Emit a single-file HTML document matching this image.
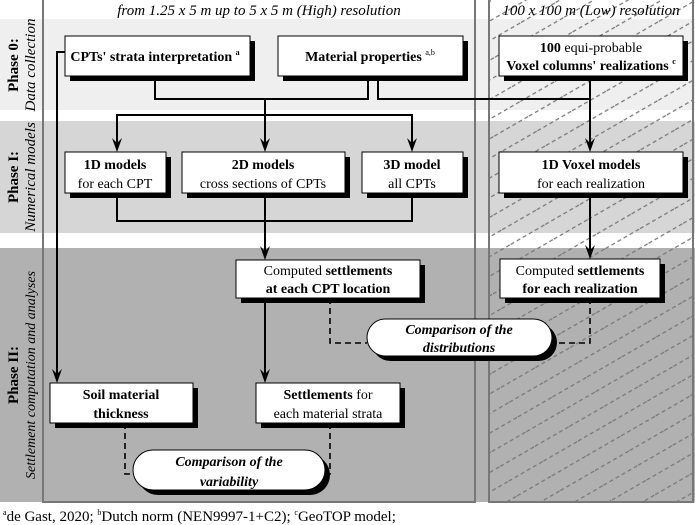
<!DOCTYPE html>
<html><head><meta charset="utf-8"><style>
html,body{margin:0;padding:0;background:#fff;}
svg{display:block;font-family:"Liberation Serif","Times New Roman",serif;}
text{font-family:"Liberation Serif","Times New Roman",serif;}
.b{font-weight:bold;}
</style></head><body>
<svg width="695" height="525" viewBox="0 0 695 525" xmlns="http://www.w3.org/2000/svg">
<defs>
<pattern id="h" width="40" height="17" patternUnits="userSpaceOnUse" patternTransform="rotate(-30)">
<line x1="0" y1="8" x2="40" y2="8" stroke="#777" stroke-width="1.2" stroke-dasharray="4 3"/>
</pattern>
</defs>
<!-- bands -->
<rect x="0" y="19" width="695" height="91" fill="#efefef"/>
<rect x="0" y="121" width="695" height="112" fill="#d6d6d6"/>
<rect x="0" y="248" width="695" height="254" fill="#b1b1b1"/>
<rect x="489" y="0" width="204" height="502" fill="url(#h)"/>
<rect x="43" y="-2" width="432" height="504" fill="none" stroke="#777" stroke-width="2"/>
<rect x="489" y="-2" width="204" height="504" fill="none" stroke="#777" stroke-width="2"/>
<!-- headers -->
<text x="259" y="15" font-size="15" font-style="italic" text-anchor="middle">from 1.25 x 5 m up to 5 x 5 m (High) resolution</text>
<text x="591" y="15" font-size="15" font-style="italic" text-anchor="middle">100 x 100 m (Low) resolution</text>
<!-- phase labels -->
<g font-size="15" text-anchor="middle">
<text transform="translate(18,65) rotate(-90)" class="b">Phase 0:</text>
<text transform="translate(35,65) rotate(-90)" font-style="italic">Data collection</text>
<text transform="translate(18,177) rotate(-90)" class="b">Phase I:</text>
<text transform="translate(35,177) rotate(-90)" font-style="italic">Numerical models</text>
<text transform="translate(18,375) rotate(-90)" class="b">Phase II:</text>
<text transform="translate(35,375) rotate(-90)" font-style="italic" font-size="14">Settlement computation and analyses</text>
</g>
<!-- connectors -->
<g stroke="#000" stroke-width="2" fill="none">
<polyline points="155,76 155,99 368,99 368,76"/>
<polyline points="378,76 378,99 590,99"/>
<line x1="265" y1="99" x2="265" y2="145"/>
<line x1="590" y1="76" x2="590" y2="145"/>
<polyline points="117,145 117,115 412,115 412,145"/>
<polyline points="117,193 117,221 412,221 412,193"/>
<line x1="265" y1="193" x2="265" y2="253"/>
<line x1="590" y1="193" x2="590" y2="252"/>
<polyline points="65,52 57,52 57,376"/>
<line x1="265" y1="298" x2="265" y2="376"/>
</g>
<g fill="#000">
<path d="M112,138 L117,152 L122,138 L117,143 Z"/>
<path d="M260,138 L265,152 L270,138 L265,143 Z"/>
<path d="M407,138 L412,152 L417,138 L412,143 Z"/>
<path d="M585,138 L590,152 L595,138 L590,143 Z"/>
<path d="M260,246 L265,260 L270,246 L265,251 Z"/>
<path d="M585,245 L590,259 L595,245 L590,250 Z"/>
<path d="M52,369 L57,383 L62,369 L57,374 Z"/>
<path d="M260,369 L265,383 L270,369 L265,374 Z"/>
</g>
<g stroke="#000" stroke-width="1.6" fill="none" stroke-dasharray="6 4">
<polyline points="330,298 330,343 367,343"/>
<polyline points="590,298 590,343 552,343"/>
<polyline points="125,423 125,474 140,474"/>
<polyline points="330,423 330,474 320,474"/>
</g>
<!-- boxes -->
<g fill="#000">
<rect x="70" y="41" width="185" height="40"/><rect x="283" y="41" width="185" height="40"/><rect x="504" y="41" width="184" height="40"/>
<rect x="70" y="157" width="101" height="41"/><rect x="187" y="157" width="163" height="41"/><rect x="367" y="157" width="101" height="41"/><rect x="504" y="157" width="184" height="41"/>
<rect x="241" y="265" width="184" height="38"/><rect x="505" y="264" width="160" height="39"/>
<rect x="55" y="388" width="143" height="40"/><rect x="261" y="388" width="144" height="40"/>
<rect x="372" y="324" width="185" height="37" rx="18.5"/><rect x="138" y="455" width="192" height="40" rx="20"/>
</g>
<g fill="#fff" stroke="#000" stroke-width="1">
<rect x="65" y="36" width="185" height="40"/><rect x="278" y="36" width="185" height="40"/><rect x="499" y="36" width="184" height="40"/>
<rect x="65" y="152" width="101" height="41"/><rect x="182" y="152" width="163" height="41"/><rect x="362" y="152" width="101" height="41"/><rect x="499" y="152" width="184" height="41"/>
<rect x="236" y="260" width="184" height="38"/><rect x="500" y="259" width="160" height="39"/>
<rect x="50" y="383" width="143" height="40"/><rect x="256" y="383" width="144" height="40"/>
<rect x="367" y="319" width="185" height="37" rx="18.5"/><rect x="133" y="450" width="192" height="40" rx="20"/>
</g>
<!-- texts -->
<g font-size="14" text-anchor="middle">
<text x="155" y="61" class="b">CPTs' strata interpretation <tspan font-size="8" dy="-6">a</tspan></text>
<text x="370" y="61" class="b">Material properties <tspan font-size="8" dy="-6" font-weight="normal">a,b</tspan></text>
<text x="591" y="52"><tspan class="b">100</tspan> equi-probable</text>
<text x="591" y="70" class="b">Voxel columns' realizations <tspan font-size="8" dy="-6">c</tspan></text>
<text x="115" y="169" class="b">1D models</text><text x="115" y="188">for each CPT</text>
<text x="263" y="169" class="b">2D models</text><text x="263" y="188">cross sections of CPTs</text>
<text x="412" y="169" class="b">3D model</text><text x="412" y="188">all CPTs</text>
<text x="591" y="169" class="b">1D Voxel models</text><text x="591" y="188">for each realization</text>
<text x="328" y="275">Computed <tspan class="b">settlements</tspan></text>
<text x="328" y="293" class="b">at each CPT location</text>
<text x="580" y="275">Computed <tspan class="b">settlements</tspan></text>
<text x="580" y="293" class="b">for each realization</text>
<text x="121" y="399" class="b">Soil material</text><text x="121" y="418" class="b">thickness</text>
<text x="328" y="399"><tspan class="b">Settlements</tspan> for</text><text x="328" y="418">each material strata</text>
<g class="b" font-style="italic">
<text x="459" y="334">Comparison of the</text><text x="459" y="352">distributions</text>
<text x="229" y="466">Comparison of the</text><text x="229" y="486">variability</text>
</g>
<text x="3" y="521" text-anchor="start" font-size="15"><tspan font-size="8" dy="-6">a</tspan><tspan dy="6">de Gast, 2020; </tspan><tspan font-size="8" dy="-6">b</tspan><tspan dy="6">Dutch norm (NEN9997-1+C2); </tspan><tspan font-size="8" dy="-6">c</tspan><tspan dy="6">GeoTOP model;</tspan></text>
</g>
</svg>
</body></html>
